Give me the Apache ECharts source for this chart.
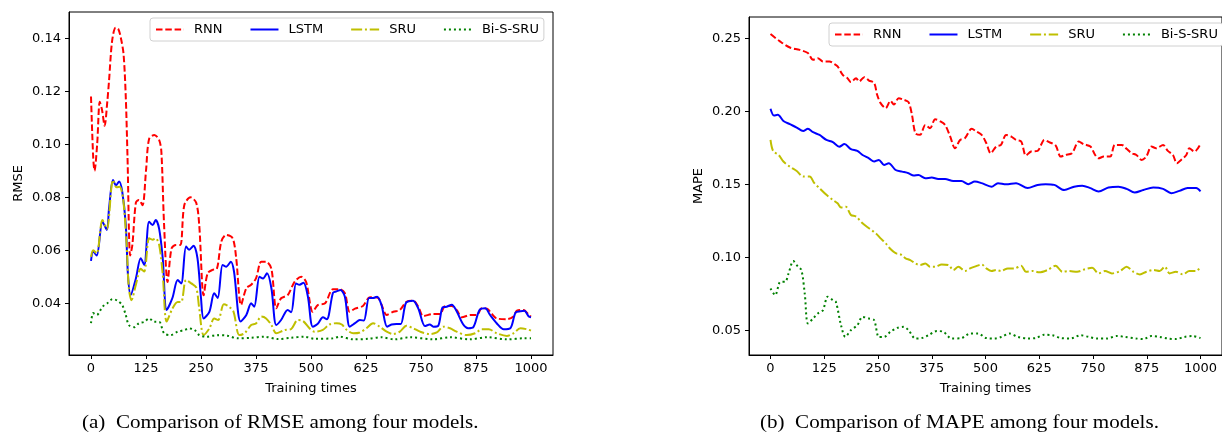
<!DOCTYPE html>
<html>
<head>
<meta charset="utf-8">
<script src="https://cdn.jsdelivr.net/npm/echarts@6/dist/echarts.min.js"></script>
<style>
  html, body { margin: 0; padding: 0; background: #fff; }
  #main { width: 1222px; height: 435px; }
</style>
</head>
<body>
<div id="main"></div>
<script>
// tick labels
var xTicks = [0, 125, 250, 375, 500, 625, 750, 875, 1000];
var rmseTicks = [0.04, 0.06, 0.08, 0.10, 0.12, 0.14];
var mapeTicks = [0.05, 0.10, 0.15, 0.20, 0.25];
var names = ['RNN', 'LSTM', 'SRU', 'Bi-S-SRU'];

// (a) RMSE, [training times, value]
var rmseRnn = [[0,0.118],[5,0.095],[8,0.090],[14,0.100],[20,0.116],[25,0.113],[31,0.107],[37,0.116],[41,0.124],[48,0.139],[56,0.144],[62,0.1435],[68,0.140],[74,0.134],[79,0.118],[83,0.095],[89,0.058],[94,0.062],[102,0.078],[109,0.079],[117,0.077],[125,0.090],[132,0.102],[144,0.1035],[155,0.1016],[160,0.097],[166,0.070],[174,0.048],[183,0.0607],[193,0.062],[203,0.062],[212,0.077],[226,0.080],[239,0.078],[246,0.0695],[256,0.043],[265,0.0513],[276,0.0526],[286,0.053],[296,0.0632],[307,0.0658],[322,0.0645],[330,0.057],[341,0.0394],[353,0.0457],[364,0.047],[375,0.0494],[387,0.0557],[398,0.0557],[410,0.053],[421,0.0381],[432,0.0419],[447,0.0431],[463,0.0482],[478,0.050],[489,0.048],[504,0.0368],[516,0.0394],[532,0.040],[550,0.0453],[565,0.0453],[577,0.0438],[588,0.0368],[600,0.038],[618,0.039],[634,0.0423],[652,0.0421],[660,0.0396],[672,0.0356],[687,0.0368],[702,0.0375],[717,0.0406],[732,0.041],[744,0.0387],[755,0.0352],[778,0.036],[793,0.036],[805,0.039],[820,0.039],[831,0.0375],[843,0.0347],[862,0.0356],[877,0.0356],[888,0.0381],[900,0.038],[911,0.036],[922,0.0343],[945,0.034],[960,0.035],[968,0.0372],[983,0.0375],[995,0.0356],[1000,0.035]];
var rmseLstm = [[0,0.056],[5,0.0595],[13,0.058],[26,0.0708],[36,0.0677],[41,0.0758],[50,0.0865],[57,0.0845],[64,0.086],[71,0.0821],[79,0.0697],[84,0.0507],[90,0.0431],[102,0.0494],[113,0.057],[121,0.0545],[132,0.0708],[140,0.0695],[147,0.0714],[155,0.068],[163,0.057],[172,0.0375],[185,0.042],[197,0.0488],[205,0.0475],[216,0.0614],[223,0.0602],[233,0.0617],[242,0.057],[250,0.042],[256,0.0343],[269,0.0368],[280,0.0438],[288,0.042],[299,0.0545],[307,0.0538],[318,0.0557],[325,0.052],[340,0.0331],[353,0.0356],[364,0.040],[371,0.0387],[383,0.050],[391,0.0494],[400,0.0513],[410,0.0457],[421,0.0318],[432,0.0337],[447,0.0375],[455,0.0366],[466,0.0475],[474,0.047],[483,0.0478],[493,0.0425],[504,0.0312],[516,0.0324],[527,0.0347],[536,0.034],[550,0.044],[558,0.0445],[567,0.045],[577,0.0425],[588,0.0312],[600,0.0325],[611,0.0337],[620,0.0335],[632,0.042],[641,0.042],[650,0.0425],[660,0.0395],[673,0.0312],[683,0.032],[694,0.0322],[704,0.0322],[716,0.0402],[732,0.041],[744,0.038],[759,0.0314],[770,0.032],[778,0.0312],[789,0.0315],[799,0.0385],[808,0.0387],[820,0.0395],[831,0.037],[846,0.032],[857,0.0306],[869,0.031],[883,0.0375],[896,0.0381],[907,0.0356],[922,0.0325],[938,0.0302],[953,0.0306],[965,0.0365],[976,0.037],[985,0.0372],[995,0.035],[1000,0.0347]];
var rmseSru = [[0,0.0575],[5,0.060],[13,0.0588],[26,0.0714],[36,0.068],[50,0.0865],[58,0.0838],[65,0.084],[73,0.0795],[81,0.062],[86,0.0457],[92,0.0412],[102,0.047],[113,0.053],[121,0.052],[132,0.0645],[140,0.064],[147,0.0645],[155,0.062],[163,0.051],[172,0.0331],[185,0.038],[197,0.0405],[205,0.0405],[216,0.0488],[228,0.0475],[239,0.046],[246,0.038],[256,0.028],[269,0.0305],[280,0.0343],[289,0.0337],[302,0.0396],[314,0.0387],[324,0.0368],[337,0.028],[349,0.0287],[364,0.0318],[375,0.0324],[387,0.035],[398,0.0343],[410,0.0318],[421,0.0287],[440,0.0299],[455,0.0303],[470,0.0337],[482,0.0333],[497,0.0305],[508,0.0293],[527,0.030],[542,0.032],[558,0.0325],[570,0.032],[581,0.030],[596,0.0287],[611,0.029],[626,0.0306],[641,0.0325],[656,0.0312],[672,0.0293],[687,0.0284],[702,0.0293],[717,0.0315],[732,0.0306],[748,0.0293],[770,0.0284],[786,0.029],[801,0.0312],[816,0.0306],[831,0.0293],[854,0.028],[873,0.0287],[888,0.0302],[904,0.0302],[922,0.0287],[945,0.0277],[960,0.0287],[976,0.0306],[991,0.0302],[1000,0.0297]];
var rmseBi = [[0,0.0325],[5,0.0363],[13,0.0356],[26,0.0387],[37,0.040],[49,0.0416],[60,0.041],[71,0.0393],[79,0.0356],[86,0.0318],[98,0.031],[109,0.0325],[121,0.033],[132,0.0343],[144,0.033],[155,0.033],[166,0.0287],[181,0.028],[197,0.0293],[212,0.0299],[223,0.0305],[235,0.030],[246,0.028],[261,0.0274],[288,0.028],[310,0.0278],[333,0.0268],[364,0.027],[394,0.0274],[424,0.0265],[455,0.027],[485,0.0274],[508,0.0266],[550,0.0268],[565,0.0274],[596,0.0264],[630,0.0266],[660,0.0272],[690,0.0264],[724,0.0272],[778,0.0264],[816,0.0272],[860,0.0264],[900,0.0272],[945,0.0264],[985,0.0268],[1000,0.0268]];

// (b) MAPE, [training times, value]
var mapeRnn = [[0,0.2528],[22,0.2478],[45,0.2436],[68,0.242],[87,0.2398],[99,0.2352],[110,0.2363],[122,0.234],[137,0.234],[149,0.2322],[156,0.2307],[168,0.2249],[179,0.2226],[187,0.2199],[199,0.2226],[206,0.2203],[218,0.2233],[229,0.221],[241,0.2194],[248,0.2112],[256,0.2055],[268,0.2021],[279,0.2071],[287,0.2045],[298,0.2089],[310,0.2078],[321,0.2062],[329,0.1975],[337,0.1849],[348,0.1838],[360,0.1906],[371,0.1883],[383,0.1945],[395,0.193],[406,0.1906],[418,0.1826],[429,0.1746],[441,0.1803],[452,0.1815],[468,0.1879],[479,0.186],[491,0.1838],[502,0.178],[512,0.1712],[525,0.1758],[536,0.1769],[548,0.1837],[560,0.1826],[571,0.1803],[583,0.1792],[594,0.1696],[606,0.1724],[621,0.1728],[637,0.1803],[648,0.1788],[663,0.1765],[675,0.1689],[686,0.170],[701,0.1712],[717,0.1792],[728,0.1774],[744,0.1758],[755,0.170],[763,0.1677],[775,0.1689],[790,0.1689],[801,0.1769],[817,0.1769],[828,0.1742],[840,0.1712],[851,0.170],[863,0.1666],[874,0.1689],[886,0.1758],[897,0.1746],[913,0.1769],[924,0.1728],[936,0.170],[945,0.1643],[955,0.1666],[967,0.170],[974,0.1746],[986,0.1723],[994,0.1746],[1000,0.1774]];
var mapeLstm = [[0,0.2016],[8,0.197],[17,0.1975],[30,0.1933],[45,0.1911],[61,0.1888],[76,0.1865],[87,0.1879],[99,0.1856],[114,0.1837],[130,0.1803],[145,0.1788],[160,0.1757],[172,0.1775],[187,0.174],[202,0.1728],[214,0.170],[229,0.1677],[241,0.1655],[252,0.1666],[264,0.1632],[275,0.1643],[291,0.1597],[306,0.1586],[321,0.1575],[333,0.1559],[344,0.1563],[360,0.1541],[375,0.1545],[390,0.1536],[406,0.1536],[425,0.1522],[444,0.1522],[460,0.150],[475,0.1518],[491,0.1507],[514,0.1483],[529,0.1507],[548,0.150],[571,0.1507],[598,0.1473],[621,0.1495],[640,0.150],[660,0.1495],[683,0.146],[706,0.1483],[725,0.149],[744,0.1473],[763,0.145],[786,0.1477],[809,0.1483],[828,0.1468],[847,0.1443],[867,0.146],[890,0.1477],[913,0.1468],[932,0.1438],[951,0.1454],[970,0.1473],[990,0.1473],[1000,0.145]];
var mapeSru = [[0,0.1803],[6,0.1728],[19,0.170],[30,0.1655],[45,0.162],[61,0.159],[76,0.1552],[91,0.1552],[102,0.1507],[114,0.1472],[130,0.1427],[145,0.1392],[156,0.1369],[164,0.134],[175,0.1346],[187,0.1289],[199,0.1278],[214,0.1232],[229,0.1198],[245,0.1163],[256,0.1129],[268,0.1095],[279,0.1056],[291,0.1027],[302,0.102],[314,0.0992],[325,0.098],[337,0.0957],[348,0.0946],[360,0.0957],[371,0.0935],[383,0.0935],[398,0.095],[414,0.0946],[425,0.0912],[437,0.0935],[452,0.0905],[464,0.0923],[475,0.0935],[491,0.095],[502,0.0923],[514,0.0905],[525,0.0912],[536,0.0905],[552,0.0923],[567,0.0923],[583,0.0941],[594,0.090],[610,0.0905],[625,0.0896],[644,0.0912],[663,0.0941],[679,0.090],[694,0.0905],[713,0.090],[732,0.0918],[748,0.0927],[763,0.0889],[778,0.0905],[794,0.0889],[813,0.0905],[828,0.0935],[844,0.090],[859,0.0882],[874,0.090],[890,0.0912],[905,0.0905],[917,0.0935],[928,0.0889],[943,0.090],[959,0.0882],[974,0.0905],[990,0.0905],[1000,0.0935]];
var mapeBi = [[0,0.0786],[11,0.074],[23,0.0831],[34,0.0831],[42,0.0889],[53,0.0973],[64,0.0935],[72,0.0912],[80,0.074],[87,0.0546],[99,0.058],[110,0.0614],[122,0.0637],[133,0.0729],[145,0.0706],[152,0.0694],[164,0.0534],[174,0.0454],[187,0.050],[202,0.0534],[214,0.0591],[229,0.058],[241,0.0569],[252,0.0454],[264,0.0454],[279,0.0489],[295,0.0516],[310,0.0523],[321,0.050],[337,0.0443],[352,0.0446],[367,0.0465],[387,0.0494],[402,0.0489],[421,0.0443],[444,0.0446],[464,0.0477],[483,0.0477],[502,0.0446],[521,0.0443],[537,0.0454],[556,0.0477],[575,0.0454],[598,0.0443],[617,0.0446],[637,0.0469],[656,0.0465],[675,0.0446],[698,0.0443],[721,0.0465],[740,0.0454],[759,0.0443],[782,0.0443],[805,0.046],[824,0.0454],[851,0.0443],[867,0.0439],[886,0.046],[905,0.0454],[924,0.0443],[943,0.0439],[963,0.0454],[982,0.046],[1000,0.0446]];

var colors = ['#ff0000', '#0000ff', '#bfbf00', '#008000'];
var dashes = [[6.5, 2.8], 'solid', [11, 2.8, 2, 2.8], [2, 3]];
var tickFont = { fontFamily: 'DejaVu Sans', fontSize: 13, color: '#000' };

var chart = echarts.init(document.getElementById('main'), null, { renderer: 'canvas' });

function xAx(idx) {
    return {
        gridIndex: idx, type: 'value', min: -50, max: 1050,
        name: 'Training times', nameLocation: 'middle', nameGap: 27,
        nameTextStyle: tickFont,
        axisLine: { onZero: false, lineStyle: { color: '#000', width: 1 } },
        axisTick: { customValues: xTicks, length: 4, lineStyle: { color: '#000' } },
        axisLabel: Object.assign({ customValues: xTicks, margin: 7,
            formatter: function (v) { return String(v); } }, tickFont),
        splitLine: { show: false }
    };
}
function yAx(idx, name, lo, hi, ticks) {
    return {
        gridIndex: idx, type: 'value', min: lo, max: hi,
        name: name, nameLocation: 'middle', nameGap: 44,
        nameTextStyle: tickFont,
        axisLine: { show: true, onZero: false, lineStyle: { color: '#000', width: 1 } },
        axisTick: { show: true, customValues: ticks, length: 4, lineStyle: { color: '#000' } },
        axisLabel: Object.assign({ customValues: ticks, margin: 8,
            formatter: function (v) { return v.toFixed(2); } }, tickFont),
        splitLine: { show: false }
    };
}
function legendAt(left, top) {
    return {
        data: names, left: left, top: top, width: 700, orient: 'horizontal',
        itemWidth: 28, itemHeight: 12, itemGap: 27,
        padding: [5, 5, 5, 5],
        borderColor: '#d0d0d0', borderWidth: 1, borderRadius: 3,
        backgroundColor: '#fff',
        itemStyle: { opacity: 0 },
        textStyle: { fontFamily: 'DejaVu Sans', fontSize: 13, color: '#000', padding: [0, 0, 0, 5] }
    };
}
function line(name, data, i, gi) {
    return {
        name: name, type: 'line', data: data,
        xAxisIndex: gi, yAxisIndex: gi,
        symbol: 'none', smooth: 0.3,
        lineStyle: { color: colors[i], width: 2, type: dashes[i] },
        itemStyle: { color: colors[i] },
        z: 2 + i
    };
}

var option = {
    animation: false,
    backgroundColor: '#fff',
    grid: [
        { left: 69, top: 12, width: 484, height: 343, show: true, borderColor: '#000', borderWidth: 1, containLabel: false },
        { left: 749, top: 17, width: 478, height: 338, show: true, borderColor: '#000', borderWidth: 1, containLabel: false }
    ],
    legend: [legendAt(150, 18), legendAt(829, 23)],
    xAxis: [xAx(0), xAx(1)],
    yAxis: [yAx(0, 'RMSE', 0.0205, 0.1499, rmseTicks), yAx(1, 'MAPE', 0.0330, 0.2645, mapeTicks)],
    series: [
        line('RNN', rmseRnn, 0, 0), line('LSTM', rmseLstm, 1, 0),
        line('SRU', rmseSru, 2, 0), line('Bi-S-SRU', rmseBi, 3, 0),
        line('RNN', mapeRnn, 0, 1), line('LSTM', mapeLstm, 1, 1),
        line('SRU', mapeSru, 2, 1), line('Bi-S-SRU', mapeBi, 3, 1)
    ],
    graphic: [
        { type: 'text', x: 82, y: 414, scaleX: 1.17,
          style: { text: '(a)  Comparison of RMSE among four models.', fontFamily: 'Liberation Serif', fontSize: 18, fill: '#000' } },
        { type: 'text', x: 760, y: 414, scaleX: 1.17,
          style: { text: '(b)  Comparison of MAPE among four models.', fontFamily: 'Liberation Serif', fontSize: 18, fill: '#000' } }
    ]
};
chart.setOption(option);
</script>
</body>
</html>
